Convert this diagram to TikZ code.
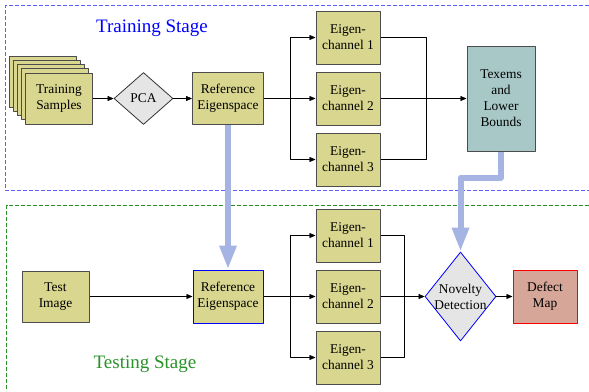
\documentclass[tikz,border=0pt]{standalone}
\usepackage{fontspec}
\setmainfont{Liberation Serif}
\usetikzlibrary{shapes.geometric,arrows.meta}
\definecolor{olivebox}{RGB}{217,214,143}
\definecolor{tealbox}{RGB}{168,200,200}
\definecolor{defectred}{RGB}{214,167,152}
\definecolor{flowblue}{RGB}{166,180,228}
\definecolor{trainblue}{RGB}{95,95,255}
\definecolor{testgreen}{RGB}{40,145,40}
\begin{document}
\begin{tikzpicture}[x=1pt,y=-1pt,font=\fontsize{13.4}{16}\selectfont,line join=round,>={Triangle[length=6pt,width=5pt]},
  blk/.style={draw=black!70,line width=1pt,fill=olivebox,minimum width=64pt,minimum height=53pt,inner sep=1pt,align=center},
  dia/.style={diamond,draw=black!80,line width=0.8pt,fill=black!10,inner sep=0pt},
  flow/.style={->,draw=flowblue,line width=6pt,>={Triangle[length=24pt,width=16pt]}},
  stage/.style={font=\fontsize{19}{22}\selectfont}]
\useasboundingbox (0,0) rectangle (589,391);
% the two stages
\draw[draw=trainblue,line width=1pt,dash pattern=on 4pt off 2pt] (589,5.5) -- (5.5,5.5) -- (5.5,190.5) -- (589,190.5);
\draw[draw=testgreen,line width=1pt,dash pattern=on 4pt off 2pt] (589,205.5) -- (6.5,205.5) -- (6.5,391);
\node[stage,text=blue] (trainlbl) at (152,28) {Training Stage};
\node[stage,text=testgreen] (testlbl) at (145,364) {Testing Stage};
% stack of training samples
\foreach \k in {4,3,2,1}
  \draw[draw=black!70,line width=1pt,fill=olivebox] ({25.5-4*\k},{72.5-4*\k}) rectangle ++(67,51);
\node[blk,minimum width=67pt,minimum height=51pt] (train) at (59,98.5) {Training\\Samples};
\node[dia,minimum width=59pt,minimum height=52pt] (pca) at (143.5,98.5) {PCA};
\node[blk,minimum width=71pt,minimum height=52pt] (ref1) at (228,98.5) {Reference\\Eigenspace};
\node[blk] (ch11) at (348,37.5) {Eigen-\\channel 1};
\node[blk] (ch12) at (348,98.5) {Eigen-\\channel 2};
\node[blk] (ch13) at (348,159.5) {Eigen-\\channel 3};
\node[blk,fill=tealbox,minimum width=68pt,minimum height=105pt] (texem) at (501,98.5) {Texems\\and\\Lower\\Bounds};
\coordinate (split1) at (290.5,98.5);
\coordinate (join1) at (426.5,98.5);
\draw[->] (train) -- (pca);
\draw[->] (pca) -- (ref1);
\draw (ref1.east) -- (split1);
\draw[->] (split1) |- (ch11.west);
\draw[->] (split1) -- (ch12.west);
\draw[->] (split1) |- (ch13.west);
\draw (ch11.east) -| (join1);
\draw (ch13.east) -| (join1);
\draw[->] (ch12.east) -- (texem.west);
% testing chain
\node[blk,minimum width=67pt,minimum height=51pt] (test) at (55.5,296.5) {Test\\Image};
\node[blk,draw=blue,minimum width=70pt] (ref2) at (228,296.5) {Reference\\Eigenspace};
\node[blk] (ch21) at (348,235.5) {Eigen-\\channel 1};
\node[blk] (ch22) at (348,296.5) {Eigen-\\channel 2};
\node[blk] (ch23) at (348,357.5) {Eigen-\\channel 3};
\node[dia,draw=blue,minimum width=71pt,minimum height=89pt] (nov) at (460.5,296.5) {};
\node[align=center] (novtxt) at (nov) {Novelty\\Detection};
\node[blk,draw=red,fill=defectred] (defect) at (545,296.5) {Defect\\Map};
\coordinate (split2) at (290.5,296.5);
\coordinate (join2) at (404.5,296.5);
\draw[->] (test) -- (ref2);
\draw (ref2.east) -- (split2);
\draw[->] (split2) |- (ch21.west);
\draw[->] (split2) -- (ch22.west);
\draw[->] (split2) |- (ch23.west);
\draw (ch21.east) -| (join2);
\draw (ch23.east) -| (join2);
\draw[->] (ch22.east) -- (nov.west);
\draw[->] (nov.east) -- (defect.west);
% model passed on to testing
\draw[flow] (ref1.south) -- (ref2.north);
\draw[flow] (texem.south) -- ++(0,26) -| (nov.north);
\end{tikzpicture}
\end{document}
